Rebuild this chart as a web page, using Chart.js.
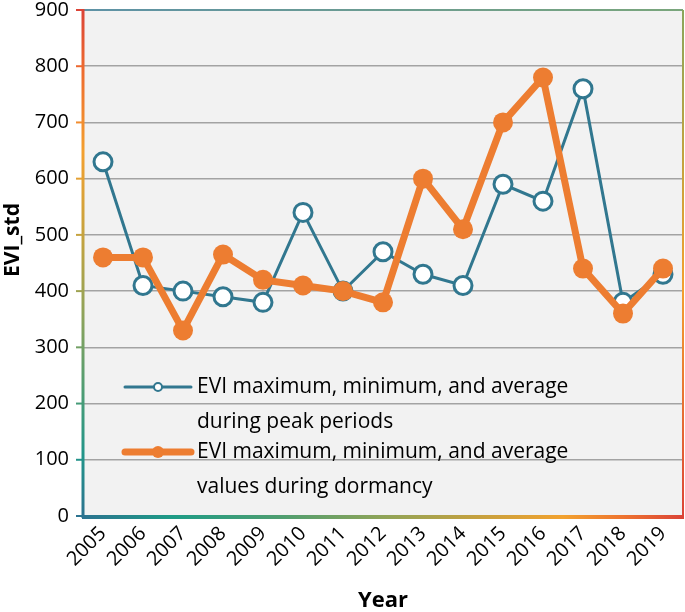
<!DOCTYPE html>
<html>
<head>
<meta charset="utf-8">
<script src="https://cdn.jsdelivr.net/npm/chart.js@4.4.1/dist/chart.umd.min.js"></script>
<style>
  html, body { margin: 0; padding: 0; background: #fff; }
  #wrap { width: 685px; height: 612px; }
</style>
</head>
<body>
<div id="wrap"><canvas id="chart"></canvas></div>
<script>
const years = ['2005','2006','2007','2008','2009','2010','2011','2012','2013','2014','2015','2016','2017','2018','2019'];
const peakValues = [630, 410, 400, 390, 380, 540, 400, 470, 430, 410, 590, 560, 760, 380, 430];
const dormancyValues = [460, 460, 330, 465, 420, 410, 400, 380, 600, 510, 700, 780, 440, 360, 440];
const yTicks = [0, 100, 200, 300, 400, 500, 600, 700, 800, 900];
const peakLabel = ['EVI maximum, minimum, and average', 'during peak periods'];
const dormancyLabel = ['EVI maximum, minimum, and average', 'values during dormancy'];

const BLUE = '#31778f';
const ORANGE = '#ed7d31';
const FONT = '"Open Sans", "Noto Sans", sans-serif';

function addStops(g, stops) {
    stops.forEach(([p, c]) => g.addColorStop(p, c));
    return g;
}

// left axis colours, top -> bottom
const leftStops = [[0, '#db4437'], [0.12, '#ee6b2f'], [0.28, '#f3a02f'], [0.45, '#c4a33f'], [0.6, '#8fa35a'], [0.75, '#4f9d73'], [0.88, '#22958a'], [1, '#2c7390']];
// bottom axis colours, left -> right
const bottomStops = [[0, '#2c7390'], [0.15, '#1e9c86'], [0.33, '#4f9e70'], [0.5, '#8fa458'], [0.66, '#c6a13f'], [0.8, '#f2a22f'], [0.9, '#ee7430'], [1, '#db4437']];
const topStops = [[0, '#5e92a6'], [1, '#7aa67c']];
const rightStops = [[0, '#8aa65c'], [0.3, '#c4a33f'], [0.55, '#f3a02f'], [1, '#db4437']];

const framePlugin = {
    id: 'frame',
    beforeDraw(chart) {
        const { ctx, chartArea: a } = chart;
        ctx.save();
        ctx.fillStyle = '#f2f2f2';
        ctx.fillRect(a.left, a.top, a.right - a.left, a.bottom - a.top);
        ctx.restore();
    },
    beforeDatasetsDraw(chart) {
        const { ctx, chartArea: a, scales } = chart;
        ctx.save();
        // top
        ctx.lineWidth = 2;
        ctx.strokeStyle = addStops(ctx.createLinearGradient(a.left, 0, a.right, 0), topStops);
        ctx.beginPath(); ctx.moveTo(a.left, a.top); ctx.lineTo(a.right, a.top); ctx.stroke();
        // right
        ctx.strokeStyle = addStops(ctx.createLinearGradient(0, a.top, 0, a.bottom), rightStops);
        ctx.beginPath(); ctx.moveTo(a.right, a.top); ctx.lineTo(a.right, a.bottom); ctx.stroke();
        // left axis + ticks
        const lg = addStops(ctx.createLinearGradient(0, a.top, 0, a.bottom), leftStops);
        ctx.strokeStyle = lg;
        ctx.lineWidth = 3;
        ctx.beginPath(); ctx.moveTo(a.left, a.top - 1); ctx.lineTo(a.left, a.bottom + 2); ctx.stroke();
        ctx.lineWidth = 2;
        yTicks.forEach(v => {
            const y = scales.y.getPixelForValue(v);
            ctx.beginPath(); ctx.moveTo(a.left - 7, y); ctx.lineTo(a.left, y); ctx.stroke();
        });
        // bottom axis
        ctx.lineWidth = 4;
        ctx.strokeStyle = addStops(ctx.createLinearGradient(a.left, 0, a.right, 0), bottomStops);
        ctx.beginPath(); ctx.moveTo(a.left - 1, a.bottom + 1); ctx.lineTo(a.right + 1, a.bottom + 1); ctx.stroke();
        ctx.restore();
    },
    afterDraw(chart) {
        const { ctx } = chart;
        ctx.save();
        // y axis title
        ctx.translate(13, 240);
        ctx.rotate(-Math.PI / 2);
        ctx.font = 'bold 21px ' + FONT;
        ctx.fillStyle = '#000';
        ctx.textAlign = 'center';
        ctx.textBaseline = 'middle';
        ctx.fillText('EVI_std', 0, 0);
        ctx.restore();

        ctx.save();
        ctx.font = '21px ' + FONT;
        ctx.fillStyle = '#000';
        ctx.textBaseline = 'middle';
        const items = [
            { label: peakLabel, y: 387, color: BLUE, lw: 3, filled: false, r: 4 },
            { label: dormancyLabel, y: 452, color: ORANGE, lw: 7, filled: true, r: 6 }
        ];
        items.forEach(it => {
            ctx.strokeStyle = it.color;
            ctx.lineWidth = it.lw;
            ctx.lineCap = 'round';
            ctx.beginPath(); ctx.moveTo(125, it.y); ctx.lineTo(191, it.y); ctx.stroke();
            ctx.beginPath(); ctx.arc(158, it.y, it.r, 0, Math.PI * 2);
            ctx.fillStyle = it.filled ? it.color : '#fff';
            ctx.fill();
            if (!it.filled) { ctx.lineWidth = 2; ctx.stroke(); }
            ctx.fillStyle = '#000';
            ctx.fillText(it.label[0], 197, it.y);
            ctx.fillText(it.label[1], 197, it.y + 35);
        });
        ctx.restore();
    }
};

new Chart(document.getElementById('chart'), {
    type: 'line',
    data: {
        labels: years,
        datasets: [
            {
                label: peakLabel.join(' '),
                data: peakValues,
                borderColor: BLUE,
                borderWidth: 3,
                backgroundColor: '#fff',
                pointBackgroundColor: '#fff',
                pointBorderColor: BLUE,
                pointBorderWidth: 3,
                pointRadius: 9,
                tension: 0,
                order: 1
            },
            {
                label: dormancyLabel.join(' '),
                data: dormancyValues,
                borderColor: ORANGE,
                borderWidth: 7,
                backgroundColor: ORANGE,
                pointBackgroundColor: ORANGE,
                pointBorderColor: ORANGE,
                pointBorderWidth: 0,
                pointRadius: 10,
                tension: 0,
                order: 0
            }
        ]
    },
    options: {
        responsive: true,
        maintainAspectRatio: false,
        animation: false,
        layout: { autoPadding: false, padding: { top: 10, right: 2, left: 0, bottom: 0 } },
        plugins: {
            legend: { display: false },
            tooltip: { enabled: false }
        },
        scales: {
            x: {
                offset: true,
                afterFit: s => { s.height = 96; s.paddingLeft = 0; s.paddingRight = 0; },
                grid: { display: false, drawTicks: false },
                border: { display: false },
                ticks: { color: '#000', font: { family: FONT, size: 20 }, maxRotation: 45, minRotation: 45, padding: 6 },
                title: { display: true, text: 'Year', color: '#000', font: { family: FONT, size: 22, weight: 'bold' }, padding: { top: 0, bottom: -2 } }
            },
            y: {
                min: 0,
                max: 900,
                afterFit: s => { s.width = 83; s.paddingTop = 0; s.paddingBottom = 0; },
                afterBuildTicks: s => { s.ticks = yTicks.map(v => ({ value: v })); },
                grid: { color: '#a3a3a3', lineWidth: 1.5, drawTicks: false },
                border: { display: false },
                ticks: { color: '#000', font: { family: FONT, size: 20 }, padding: 14 },
                title: { display: false }
            }
        }
    },
    plugins: [framePlugin]
});
</script>
</body>
</html>
